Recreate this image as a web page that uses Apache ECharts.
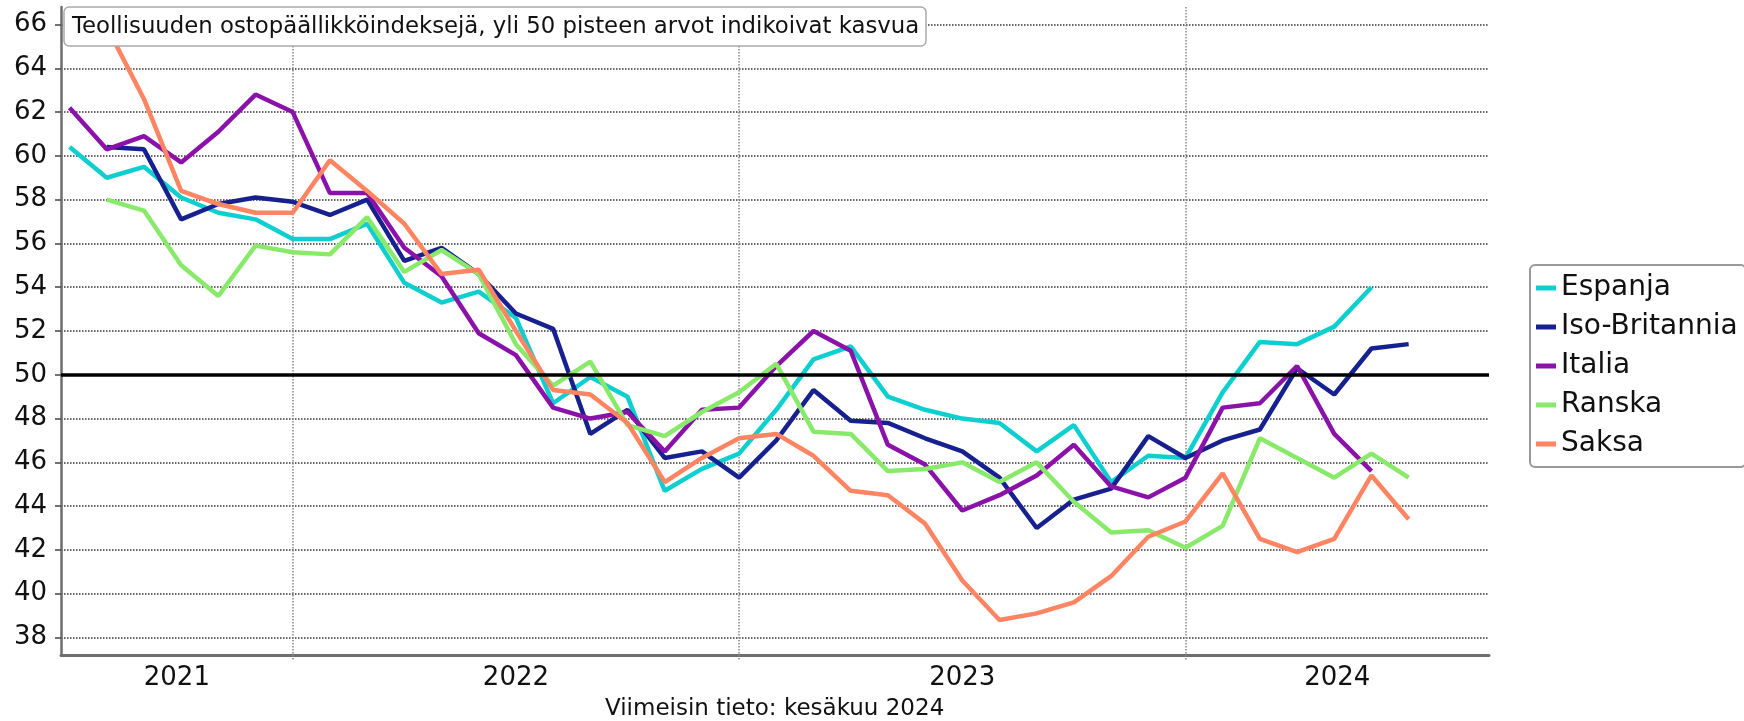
<!DOCTYPE html>
<html>
<head>
<meta charset="utf-8">
<script src="https://cdn.jsdelivr.net/npm/echarts@6/dist/echarts.min.js"></script>
<style>
html, body { margin: 0; padding: 0; background: #fff; }
#chart { width: 1744px; height: 721px; }
</style>
</head>
<body>
<div id="chart"></div>
<script>
// kuukausittaiset ostopäällikköindeksit (viimeisin: kesäkuu 2024)
var months = ['2021-06', '2021-07', '2021-08', '2021-09', '2021-10', '2021-11', '2021-12',
	'2022-01', '2022-02', '2022-03', '2022-04', '2022-05', '2022-06', '2022-07', '2022-08', '2022-09', '2022-10', '2022-11', '2022-12',
	'2023-01', '2023-02', '2023-03', '2023-04', '2023-05', '2023-06', '2023-07', '2023-08', '2023-09', '2023-10', '2023-11', '2023-12',
	'2024-01', '2024-02', '2024-03', '2024-04', '2024-05', '2024-06'];

var espanja = [60.4, 59.0, 59.5, 58.1, 57.4, 57.1, 56.2,
	56.2, 56.9, 54.2, 53.3, 53.8, 52.6, 48.7, 49.9, 49.0, 44.7, 45.7, 46.4,
	48.4, 50.7, 51.3, 49.0, 48.4, 48.0, 47.8, 46.5, 47.7, 45.1, 46.3, 46.2,
	49.2, 51.5, 51.4, 52.2, 54.0, null];

var isoBritannia = [null, 60.4, 60.3, 57.1, 57.8, 58.1, 57.9,
	57.3, 58.0, 55.2, 55.8, 54.6, 52.8, 52.1, 47.3, 48.4, 46.2, 46.5, 45.3,
	47.0, 49.3, 47.9, 47.8, 47.1, 46.5, 45.3, 43.0, 44.3, 44.8, 47.2, 46.2,
	47.0, 47.5, 50.3, 49.1, 51.2, 51.4];

var italia = [62.2, 60.3, 60.9, 59.7, 61.1, 62.8, 62.0,
	58.3, 58.3, 55.8, 54.5, 51.9, 50.9, 48.5, 48.0, 48.3, 46.5, 48.4, 48.5,
	50.4, 52.0, 51.1, 46.8, 45.9, 43.8, 44.5, 45.4, 46.8, 44.9, 44.4, 45.3,
	48.5, 48.7, 50.4, 47.3, 45.6, null];

var ranska = [null, 58.0, 57.5, 55.0, 53.6, 55.9, 55.6,
	55.5, 57.2, 54.7, 55.7, 54.6, 51.4, 49.5, 50.6, 47.7, 47.2, 48.3, 49.2,
	50.5, 47.4, 47.3, 45.6, 45.7, 46.0, 45.1, 46.0, 44.2, 42.8, 42.9, 42.1,
	43.1, 47.1, 46.2, 45.3, 46.4, 45.3];

var saksa = [65.1, 65.9, 62.6, 58.4, 57.8, 57.4, 57.4,
	59.8, 58.4, 56.9, 54.6, 54.8, 52.0, 49.3, 49.1, 47.8, 45.1, 46.2, 47.1,
	47.3, 46.3, 44.7, 44.5, 43.2, 40.6, 38.8, 39.1, 39.6, 40.8, 42.6, 43.3,
	45.5, 42.5, 41.9, 42.5, 45.4, 43.4];

var seriesNames = ['Espanja', 'Iso-Britannia', 'Italia', 'Ranska', 'Saksa'];
var seriesData = [espanja, isoBritannia, italia, ranska, saksa];
var seriesColors = ['#0dcfcf', '#17208f', '#8b12a8', '#89e96b', '#ff8461'];

var yTicks = [38, 40, 42, 44, 46, 48, 50, 52, 54, 56, 58, 60, 62, 64, 66];
var yearLabels = ['2021', '2022', '2023', '2024'];
var yearEnds = ['2021-12', '2022-12', '2023-12'];

var titleText = 'Teollisuuden ostopäällikköindeksejä, yli 50 pisteen arvot indikoivat kasvua';
var footText = 'Viimeisin tieto: kesäkuu 2024';

// x-akseli kuukausina, 0 = vuoden 2021 viimeinen kuukausi (vuodenvaihde)
var base = months.indexOf(yearEnds[0]);
var xMin = -6.23, xMax = 32.16;
var yearTicks = yearEnds.map(function (m) { return months.indexOf(m) - base; });
var bounds = [xMin].concat(yearTicks).concat([xMax]);
var yearPos = yearLabels.map(function (y, i) { return (bounds[i] + bounds[i + 1]) / 2; });

function toPoints(arr) {
	var out = [];
	arr.forEach(function (v, i) {
		if (v != null) out.push([i - base, v]);
	});
	return out;
}

var font = 'DejaVu Sans';
var myChart = echarts.init(document.getElementById('chart'));

// 50 pisteen raja
var series = [{
	name: '50-raja',
	type: 'line',
	data: [],
	silent: true,
	markLine: {
		silent: true,
		symbol: 'none',
		label: { show: false },
		lineStyle: { color: '#000', width: 3.5, type: 'solid' },
		data: [{ yAxis: 50 }]
	}
}];
seriesNames.forEach(function (name, i) {
	series.push({
		name: name,
		type: 'line',
		data: toPoints(seriesData[i]),
		showSymbol: false,
		symbol: 'none',
		color: seriesColors[i],
		lineStyle: { width: 4.5, color: seriesColors[i] },
		emphasis: { disabled: true },
		animation: false
	});
});

option = {
	animation: false,
	backgroundColor: '#fff',
	title: [{
		text: titleText,
		left: 64,
		top: 7,
		padding: [8, 7, 7, 8],
		backgroundColor: '#fff',
		borderColor: '#aaa',
		borderWidth: 1.5,
		borderRadius: 5,
		textStyle: { fontFamily: font, fontSize: 22.8, fontWeight: 'normal', color: '#111', lineHeight: 24 }
	}, {
		text: footText,
		left: 605,
		top: 697,
		padding: 0,
		textStyle: { fontFamily: font, fontSize: 23, fontWeight: 'normal', color: '#111', lineHeight: 24 }
	}],
	legend: {
		data: seriesNames,
		orient: 'vertical',
		left: 1530,
		top: 265,
		icon: 'rect',
		itemWidth: 20,
		itemHeight: 5,
		itemGap: 11,
		padding: [9, 8, 9, 6],
		borderColor: '#999',
		borderWidth: 2,
		borderRadius: 5,
		textStyle: { fontFamily: font, fontSize: 28, color: '#111', lineHeight: 28 }
	},
	grid: {
		left: 61,
		right: 255,
		top: 7,
		bottom: 66,
		containLabel: false,
		outerBoundsMode: 'none'
	},
	xAxis: {
		type: 'value',
		min: xMin,
		max: xMax,
		axisLine: { show: true, onZero: false, lineStyle: { color: '#6e6e6e', width: 3 } },
		axisTick: {
			show: true,
			customValues: yearTicks,
			length: 5,
			lineStyle: { color: '#888', type: 'dotted', width: 1.5 }
		},
		axisLabel: {
			customValues: yearPos,
			margin: 10,
			fontFamily: font,
			fontSize: 26,
			color: '#111',
			formatter: function (v) {
				var best = 0;
				yearPos.forEach(function (p, i) {
					if (Math.abs(p - v) < Math.abs(yearPos[best] - v)) best = i;
				});
				return yearLabels[best];
			}
		},
		splitLine: { show: true, lineStyle: { color: '#888', type: 'dotted', width: 1.5 } }
	},
	yAxis: {
		type: 'value',
		min: 37.2,
		max: 66.8,
		axisLine: { show: true, onZero: false, lineStyle: { color: '#6e6e6e', width: 2.5 } },
		axisTick: {
			show: true,
			customValues: yTicks,
			length: 6,
			lineStyle: { color: '#444', width: 1.5 }
		},
		axisLabel: {
			customValues: yTicks,
			margin: 14,
			fontFamily: font,
			fontSize: 26,
			color: '#111'
		},
		splitLine: { show: true, lineStyle: { color: '#333', type: 'dotted', width: 1.5 } }
	},
	series: series
};
myChart.setOption(option);
</script>
</body>
</html>
